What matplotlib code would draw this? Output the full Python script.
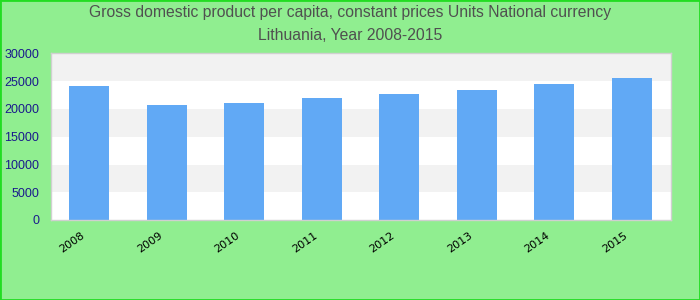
import matplotlib
matplotlib.use("Agg")
import matplotlib.pyplot as plt
from matplotlib.transforms import ScaledTranslation, blended_transform_factory

years = ["2008", "2009", "2010", "2011", "2012", "2013", "2014", "2015"]
gdp = [24150, 20750, 21100, 22000, 22700, 23400, 24500, 25600]
y_ticks = [0, 5000, 10000, 15000, 20000, 25000, 30000]

plt.rcParams["font.family"] = ["Liberation Sans", "DejaVu Sans"]

fig = plt.figure(figsize=(7, 3), dpi=100, facecolor="#90ee90")
ax = fig.add_axes([50.5 / 700, 80 / 300, 620 / 700, 166.5 / 300])
ax.set_facecolor("white")

# alternating horizontal bands
for i in range(len(y_ticks) - 1):
    if i % 2 == 1:
        ax.axhspan(y_ticks[i], y_ticks[i + 1], color="#f2f2f2", zorder=0, lw=0)

x = range(len(years))
ax.bar(x, gdp, width=0.52, color="#61a9f5", zorder=2)
ax.set_xlim(-0.5, len(years) - 0.5)
ax.set_ylim(0, 30000)
ax.set_yticks(y_ticks)
ax.set_xticks(list(x))
ax.set_xticklabels([])
ax.tick_params(axis="y", labelsize=9, colors="#1a1a8c", length=0, pad=8)
ax.tick_params(axis="x", length=0)

# rotated year labels, offset left of the bar centre
base = blended_transform_factory(ax.transData, ax.transAxes)
off = ScaledTranslation(-17 / 100, -22 / 100, fig.dpi_scale_trans)
for i, yr in zip(x, years):
    ax.text(i, 0, yr, transform=base + off, rotation=35, ha="center",
            va="center", fontsize=8, color="black", family="DejaVu Sans")

for s in ax.spines.values():
    s.set_color("#d0d0d0")
    s.set_linewidth(1)

fig.text(0.5, 1 - 13 / 300, "Gross domestic product per capita, constant prices Units National currency",
         ha="center", va="center", fontsize=11.3, color="#505050")
fig.text(0.5, 1 - 35 / 300, "Lithuania, Year 2008-2015",
         ha="center", va="center", fontsize=11.3, color="#505050")

border = plt.Rectangle((0, 0), 1, 1, transform=fig.transFigure, fill=False,
                       edgecolor="#22dd22", lw=2)
fig.patches.append(border)

fig.savefig("out.png", dpi=100, facecolor=fig.get_facecolor())
